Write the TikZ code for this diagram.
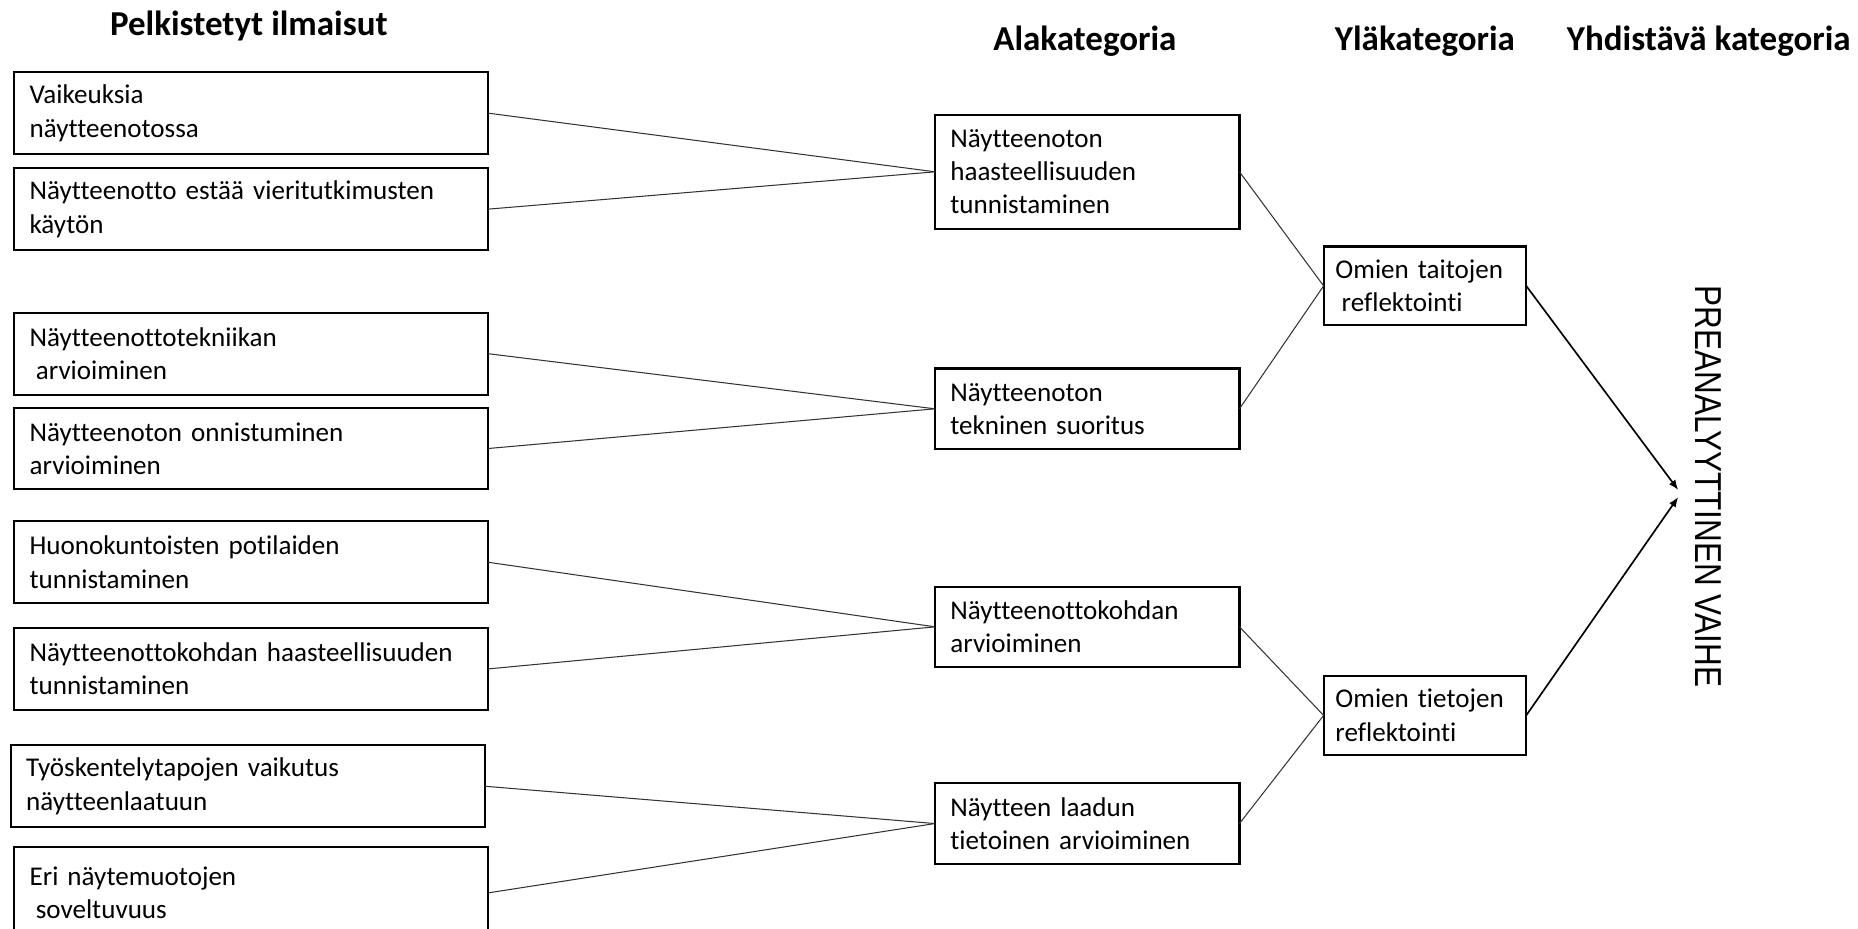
\documentclass[tikz,border=0pt]{standalone}
\usepackage{graphicx}
\usepackage{fontspec}
\setmainfont{Carlito}[Ligatures=NoCommon]
\newfontfamily\vaihefont{Liberation Sans}
\usetikzlibrary{arrows.meta,positioning}

\begin{document}
\begin{tikzpicture}[node distance=1cm, auto,]
  % tyylien maarittely
  %Define style for boxes
   \tikzset{
   laatikko/.style={
           rectangle,
           draw=black,
           line width=1pt,
           outer sep=0pt,
           inner xsep=0.26cm,
           inner ysep=0pt,
           align=left,
           font=\fontsize{13}{16}\selectfont},
   pelk/.style={laatikko, text width=7.48cm, minimum height=1.38cm},
   ala/.style={laatikko, text width=4.62cm, minimum height=1.36cm},
   yla/.style={laatikko, inner xsep=0.2cm, text width=3.02cm, minimum height=1.33cm},
   otsikko/.style={font=\fontsize{16.8}{20}\selectfont\bfseries},
    % Define line and arrow style
   viiva/.style={
           draw=black!80,
           line width=0.5pt},
   nuoli/.style={
           -{Latex[length=4.8pt,width=3.8pt]},
           line width=0.8pt}
    }
  \useasboundingbox (0,0) rectangle (31.36,-15.68);

  % Kaavio
  \node[otsikko] (otsP) at (4.20,-0.44) {Pelkistetyt ilmaisut};
  \node[pelk, anchor=north west] (vaik) at (0.24,-1.22) {Vaikeuksia\\näytteenotossa};
  \node[pelk, below=0.24cm of vaik] (esta) {Näytteenotto estää vieritutkimusten\\käytön};
  \node[pelk, below=1.06cm of esta] (tekn) {Näytteenottotekniikan\\\hspace*{.23em}arvioiminen};
  \node[pelk, below=0.22cm of tekn] (onn) {Näytteenoton onnistuminen\\arvioiminen};
  \node[pelk, below=0.54cm of onn] (huono) {Huonokuntoisten potilaiden\\tunnistaminen};
  \node[pelk, below=0.42cm of huono] (kohta) {Näytteenottokohdan haasteellisuuden\\tunnistaminen};
  \node[pelk, below=0.60cm of kohta, xshift=-0.06cm] (tyo) {Työskentelytapojen vaikutus\\näytteenlaatuun};
  \node[pelk, below=0.34cm of tyo, xshift=0.06cm, minimum height=1.54cm] (eri) {Eri näytemuotojen\\\hspace*{.23em}soveltuvuus};

  \node[otsikko] (otsA) at (18.31,-0.70) {Alakategoria};
  \node[ala, anchor=north west, minimum height=1.92cm] (haast) at (15.78,-1.94) {Näytteenoton\\haasteellisuuden\\tunnistaminen};
  \node[ala, below=2.36cm of haast] (suor) {Näytteenoton\\tekninen suoritus};
  \node[ala, below=2.32cm of suor] (kohd) {Näytteenottokohdan\\arvioiminen};
  \node[ala, below=1.96cm of kohd] (laatu) {Näytteen laadun\\tietoinen arvioiminen};

  \node[otsikko] (otsY) at (24.05,-0.70) {Yläkategoria};
  \node[yla, anchor=north west] (taidot) at (22.34,-4.16) {Omien taitojen\\\hspace*{.23em}reflektointi};
  \node[yla, below=5.92cm of taidot] (tiedot) {Omien tietojen\\reflektointi};

  \node[otsikko] (otsYh) at (28.84,-0.70) {Yhdistävä kategoria};
  \node[rotate=-90, inner sep=0.28cm, font=\vaihefont\fontsize{18}{20}\selectfont] (vaihe) at (28.83,-8.21) {\scalebox{0.84}[1]{PREANALYYTTINEN VAIHE}};

  \draw[viiva] (vaik.east) -- (haast.west);
  \draw[viiva] (esta.east) -- (haast.west);
  \draw[viiva] (tekn.east) -- (suor.west);
  \draw[viiva] (onn.east) -- (suor.west);
  \draw[viiva] (huono.east) -- (kohd.west);
  \draw[viiva] (kohta.east) -- (kohd.west);
  \draw[viiva] (tyo.east) -- (laatu.west);
  \draw[viiva] (eri.east) -- (laatu.west);
  \draw[viiva] (haast.east) -- (taidot.west);
  \draw[viiva] (suor.east) -- (taidot.west);
  \draw[viiva] (kohd.east) -- (tiedot.west);
  \draw[viiva] (laatu.east) -- (tiedot.west);
  \draw[nuoli] (taidot.east) -- ([yshift=-0.06cm]vaihe.south);
  \draw[nuoli] (tiedot.east) -- ([yshift=-0.18cm]vaihe.south);
 \end{tikzpicture}
\end{document}
